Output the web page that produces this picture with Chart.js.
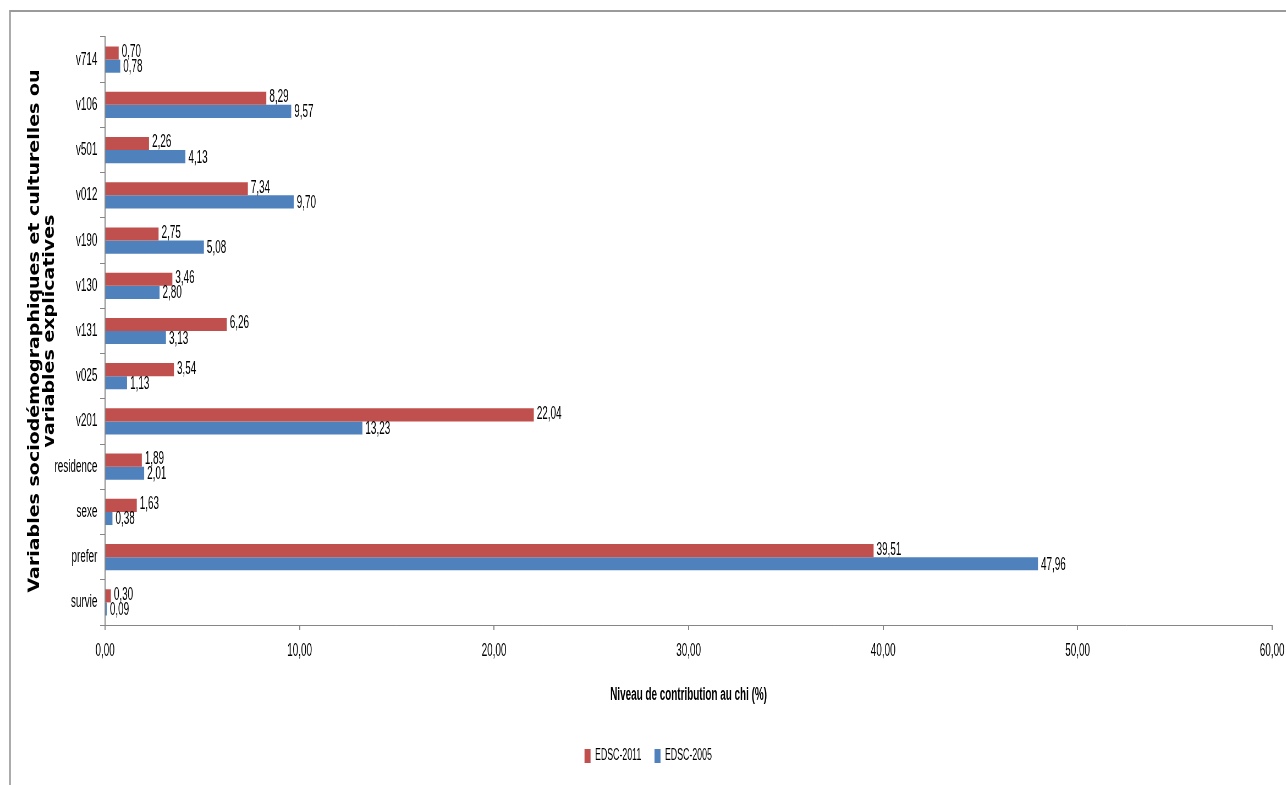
<!DOCTYPE html>
<html>
<head>
<meta charset="utf-8">
<script src="https://cdn.jsdelivr.net/npm/chart.js@4/dist/chart.umd.min.js"></script>
<style>
  html, body { margin: 0; padding: 0; background: #fff; }
  #wrap { position: relative; width: 1286px; height: 785px; overflow: hidden; }
  #inner { position: absolute; left: 0; top: 0; transform: scaleX(0.55); transform-origin: 0 0; }
</style>
</head>
<body>
<div id="wrap"><div id="inner"><canvas id="c" width="2338" height="785"></canvas></div></div>
<script>
const categories = ['v714', 'v106', 'v501', 'v012', 'v190', 'v130', 'v131', 'v025', 'v201', 'residence', 'sexe', 'prefer', 'survie'];
const edsc2011 = [0.70, 8.29, 2.26, 7.34, 2.75, 3.46, 6.26, 3.54, 22.04, 1.89, 1.63, 39.51, 0.30];
const edsc2005 = [0.78, 9.57, 4.13, 9.70, 5.08, 2.80, 3.13, 1.13, 13.23, 2.01, 0.38, 47.96, 0.09];
const seriesNames = ['EDSC-2011', 'EDSC-2005'];
const xTitle = 'Niveau de contribution au chi (%)';
const yTitleLines = ['Variables sociodémographiques et culturelles ou', 'variables explicatives'];

// the whole drawing is squeezed horizontally (condensed text look of the original)
const SX = 0.55;
const FONT = '"Liberation Sans", Arial, sans-serif';
const fmt = v => v.toFixed(2).replace('.', ',');

const framePlugin = {
  id: 'frame',
  beforeDraw(chart) {
    const ctx = chart.ctx;
    ctx.save();
    ctx.strokeStyle = '#9a9a9a';
    ctx.lineWidth = 3;
    ctx.beginPath();
    ctx.moveTo(10 / SX, 785);
    ctx.lineTo(10 / SX, 11);
    ctx.stroke();
    ctx.lineWidth = 2;
    ctx.beginPath();
    ctx.moveTo(10 / SX - 1.5, 11);
    ctx.lineTo(chart.width, 11);
    ctx.stroke();
    ctx.restore();
  }
};

const labelPlugin = {
  id: 'valueLabels',
  afterDatasetsDraw(chart) {
    const ctx = chart.ctx;
    ctx.save();
    ctx.font = '18px ' + FONT;
    ctx.fillStyle = '#000';
    ctx.textAlign = 'left';
    ctx.textBaseline = 'middle';
    chart.data.datasets.forEach((ds, di) => {
      const meta = chart.getDatasetMeta(di);
      meta.data.forEach((bar, i) => {
        ctx.fillText(fmt(ds.data[i]), bar.x + 3 / SX, bar.y + (di === 0 ? -1 : 1));
      });
    });
    ctx.restore();
  }
};

const yTitlePlugin = {
  id: 'yTitle',
  afterDraw(chart) {
    const ctx = chart.ctx;
    ctx.save();
    ctx.font = 'bold 19px "DejaVu Sans", sans-serif';
    ctx.fillStyle = '#000';
    ctx.textAlign = 'center';
    ctx.textBaseline = 'middle';
    ctx.translate(35 / SX, 331);
    ctx.rotate(-Math.PI / 2);
    ctx.scale(1, 1.45);
    ctx.fillText(yTitleLines[0], 0, 0);
    ctx.fillText(yTitleLines[1], 0, 15 / SX / 1.45);
    ctx.restore();
  }
};

new Chart(document.getElementById('c'), {
  type: 'bar',
  data: {
    labels: categories,
    datasets: [
      { label: seriesNames[0], data: edsc2011, backgroundColor: '#C0504D', borderWidth: 0 },
      { label: seriesNames[1], data: edsc2005, backgroundColor: '#4F81BD', borderWidth: 0 }
    ]
  },
  options: {
    indexAxis: 'y',
    responsive: false,
    animation: false,
    devicePixelRatio: 1,
    barPercentage: 1,
    categoryPercentage: 0.58,
    layout: { padding: { left: 44, right: 25, top: 37, bottom: 11 } },
    plugins: {
      legend: {
        position: 'bottom',
        labels: {
          boxWidth: 11,
          boxHeight: 14,
          padding: 24,
          color: '#000',
          font: { family: FONT, size: 16 }
        }
      },
      tooltip: { enabled: false }
    },
    scales: {
      x: {
        min: 0,
        max: 60,
        ticks: {
          stepSize: 10,
          padding: 10,
          color: '#000',
          font: { family: FONT, size: 18 },
          callback: v => fmt(v),
          maxRotation: 0
        },
        grid: { display: true, drawOnChartArea: false, drawTicks: true, tickLength: 5, color: '#868686', lineWidth: 2 },
        border: { display: true, color: '#868686', width: 1 },
        title: {
          display: true,
          text: xTitle,
          color: '#000',
          font: { family: FONT, size: 18, weight: 'bold' },
          padding: { top: 0, bottom: 18 }
        },
        afterFit(scale) { scale.height = 99; scale.paddingRight = 0; }
      },
      y: {
        ticks: {
          padding: 5,
          color: '#000',
          font: { family: FONT, size: 18 }
        },
        grid: { display: true, offset: true, drawOnChartArea: false, drawTicks: true, tickLength: 9, color: '#868686' },
        border: { display: true, color: '#868686', width: 2 },
        afterFit(scale) { scale.width = 147; }
      }
    }
  },
  plugins: [framePlugin, labelPlugin, yTitlePlugin]
});
</script>
</body>
</html>
